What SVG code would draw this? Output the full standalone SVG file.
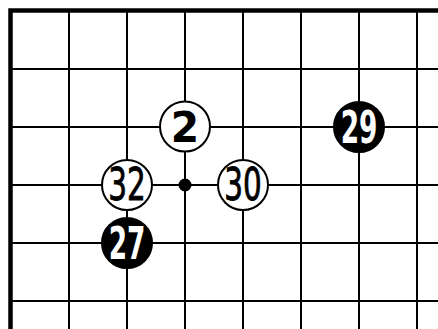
<svg xmlns="http://www.w3.org/2000/svg" width="438" height="329" viewBox="0 0 438 329">
<style>
.grid line{stroke:#000;stroke-width:2}
.edge{stroke:#000;stroke-width:4.5;fill:none}
.w{fill:#fff;stroke:#000;stroke-width:2}
.b{fill:#000;stroke:#000;stroke-width:2}
.t{font-family:"DejaVu Sans",sans-serif;text-anchor:middle}
.tw{fill:#000;font-size:44px;stroke:#000;stroke-width:0.9}
.tb{fill:#fff;font-size:44px;font-weight:bold}
.big{fill:#000;font-size:43px;font-weight:bold}
</style>
<rect width="438" height="329" fill="#fff"/>
<g id="board" class="grid">
<line x1="69" y1="10" x2="69" y2="329"/>
<line x1="127" y1="10" x2="127" y2="329"/>
<line x1="185" y1="10" x2="185" y2="329"/>
<line x1="243" y1="10" x2="243" y2="329"/>
<line x1="301" y1="10" x2="301" y2="329"/>
<line x1="359" y1="10" x2="359" y2="329"/>
<line x1="417" y1="10" x2="417" y2="329"/>
<line x1="10" y1="69" x2="438" y2="69"/>
<line x1="10" y1="127" x2="438" y2="127"/>
<line x1="10" y1="185" x2="438" y2="185"/>
<line x1="10" y1="243" x2="438" y2="243"/>
<line x1="10" y1="301" x2="438" y2="301"/>
<path class="edge" d="M10.5 329 V10.5 H438"/>
</g>
<g id="hoshi"><circle cx="185" cy="185" r="6.5" fill="#000"/></g>
<g id="s2"><circle class="w" cx="185" cy="126.5" r="25"/><text class="t big" transform="translate(185 142) scale(0.95 1)">2</text></g>
<g id="s32"><circle class="w" cx="127" cy="185" r="25"/><text class="t tw" transform="translate(127 200) scale(0.67 1)">32</text></g>
<g id="s30"><circle class="w" cx="243" cy="185" r="25"/><text class="t tw" transform="translate(243 200) scale(0.67 1)">30</text></g>
<g id="s27"><circle class="b" cx="127" cy="243" r="25"/><text class="t tb" transform="translate(127 258.5) scale(0.6 1)">27</text></g>
<g id="s29"><circle class="b" cx="359" cy="127" r="25"/><text class="t tb" transform="translate(359 142.5) scale(0.6 1)">29</text></g>
</svg>
